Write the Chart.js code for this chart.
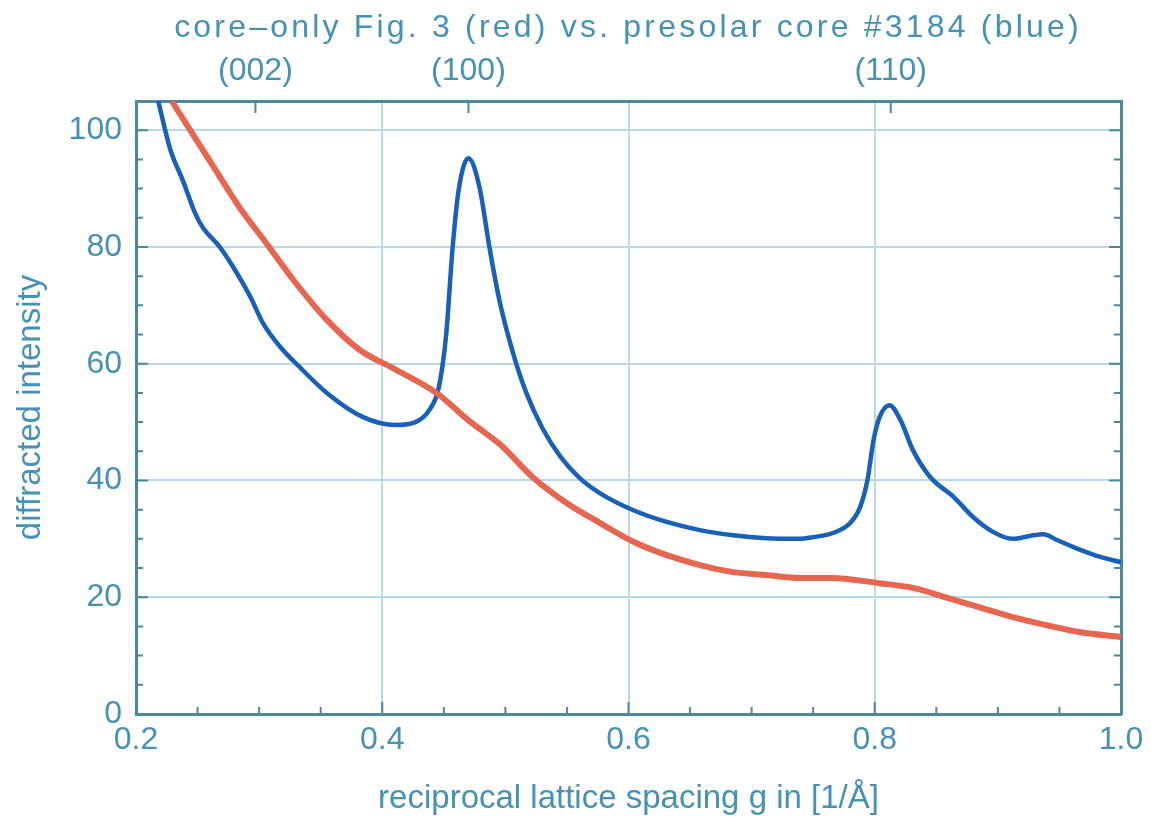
<!DOCTYPE html>
<html>
<head>
<meta charset="utf-8">
<title>core-only Fig. 3 vs. presolar core</title>
<script src="https://cdn.jsdelivr.net/npm/chart.js@4.4.0/dist/chart.umd.min.js"></script>
<style>
  html, body { margin: 0; padding: 0; background: #ffffff; }
  canvas { display: block; }
</style>
</head>
<body>
<canvas id="grafico" width="1151" height="821"></canvas>
<script>
// ==========================================
// DATA
// ==========================================
const gRed = [0.229, 0.244, 0.263, 0.284, 0.306, 0.328, 0.355, 0.382, 0.409, 0.444,
              0.470, 0.496, 0.522, 0.550, 0.577, 0.604, 0.631, 0.658, 0.685, 0.712,
              0.739, 0.764, 0.804, 0.831, 0.859, 0.886, 0.912, 0.940, 0.967, 1.000];
const iRed = [105.0, 100.0, 93.7, 86.8, 80.6, 74.3, 67.5, 62.3, 59.2, 55.0,
              50.3, 46.1, 40.6, 36.1, 32.7, 29.5, 27.2, 25.5, 24.3, 23.8,
              23.3, 23.3, 22.4, 21.6, 19.9, 18.2, 16.6, 15.2, 14.0, 13.2];

const gBlue = [0.218, 0.228, 0.238, 0.248, 0.254, 0.268, 0.282, 0.293, 0.303, 0.317,
               0.333, 0.355, 0.384, 0.411, 0.427, 0.438, 0.446, 0.452, 0.457, 0.462,
               0.470, 0.479, 0.487, 0.495, 0.506, 0.517, 0.530, 0.545, 0.560, 0.577,
               0.604, 0.631, 0.658, 0.685, 0.712, 0.739, 0.750, 0.766, 0.780, 0.788,
               0.794, 0.799, 0.804, 0.812, 0.821, 0.831, 0.845, 0.864, 0.880, 0.896,
               0.912, 0.926, 0.937, 0.948, 0.967, 0.983, 1.000];
const iBlue = [105.0, 96.6, 91.4, 85.8, 83.4, 80.0, 75.5, 71.4, 67.0, 62.9,
               59.4, 55.0, 50.9, 49.5, 50.0, 52.0, 56.0, 65.2, 79.5, 89.7,
               95.2, 90.2, 80.0, 71.0, 62.0, 55.0, 49.0, 44.0, 40.5, 37.8,
               34.9, 32.9, 31.5, 30.6, 30.1, 30.0, 30.3, 31.0, 32.7, 35.4,
               40.0, 46.9, 50.9, 52.9, 50.3, 45.2, 40.6, 37.2, 33.7, 31.2,
               30.0, 30.5, 30.8, 29.8, 28.1, 26.9, 26.0];

const xTicks = [0.2, 0.4, 0.6, 0.8, 1.0];
const xMinor = [0.25, 0.3, 0.35, 0.45, 0.5, 0.55, 0.65, 0.7, 0.75, 0.85, 0.9, 0.95];
const yTicks = [0, 20, 40, 60, 80, 100];
const yMinor = [5, 10, 15, 25, 30, 35, 45, 50, 55, 65, 70, 75, 85, 90, 95];
const peakG = [0.297, 0.470, 0.813];
const peakLabels = ['(002)', '(100)', '(110)'];

const colors = {
    red: '#e6664f',
    blue: '#1860b8',
    text: '#4592b4',
    axis: '#4a889c',
    grid: '#bcd9e7'
};
const FONT = '"Liberation Sans", Arial, sans-serif';

// texto del título con espaciado amplio
const tituloPlugin = {
    id: 'tituloEspaciado',
    afterDraw(chart) {
        const ctx = chart.ctx;
        ctx.save();
        ctx.font = '32px ' + FONT;
        ctx.letterSpacing = '3.2px';
        ctx.fillStyle = colors.text;
        ctx.textAlign = 'center';
        ctx.textBaseline = 'middle';
        ctx.fillText('core\u2013only Fig. 3 (red) vs. presolar core #3184 (blue)', 628, 28);
        ctx.restore();
    }
};

// marcas de eje hacia adentro
const marcasPlugin = {
    id: 'marcasInternas',
    afterDatasetsDraw(chart) {
        const { ctx, chartArea: a, scales } = chart;
        ctx.save();
        ctx.strokeStyle = colors.axis;
        ctx.lineWidth = 2;
        ctx.beginPath();
        xMinor.forEach(v => {
            const px = scales.x.getPixelForValue(v);
            ctx.moveTo(px, a.bottom); ctx.lineTo(px, a.bottom - 7);
        });
        xTicks.forEach(v => {
            const px = scales.x.getPixelForValue(v);
            ctx.moveTo(px, a.bottom); ctx.lineTo(px, a.bottom - 12);
        });
        yMinor.forEach(v => {
            const py = scales.y.getPixelForValue(v);
            ctx.moveTo(a.left, py); ctx.lineTo(a.left + 7, py);
            ctx.moveTo(a.right, py); ctx.lineTo(a.right - 7, py);
        });
        yTicks.forEach(v => {
            const py = scales.y.getPixelForValue(v);
            ctx.moveTo(a.left, py); ctx.lineTo(a.left + 12, py);
            ctx.moveTo(a.right, py); ctx.lineTo(a.right - 12, py);
        });
        peakG.forEach(v => {
            const px = scales.x2.getPixelForValue(v);
            ctx.moveTo(px, a.top); ctx.lineTo(px, a.top + 12);
        });
        ctx.stroke();
        ctx.restore();
    }
};

const ctx = document.getElementById('grafico').getContext('2d');

new Chart(ctx, {
    type: 'line',
    data: {
        datasets: [
            {
                label: 'core-only Fig. 3',
                data: gRed.map((g, i) => ({ x: g, y: iRed[i] })),
                borderColor: colors.red,
                borderWidth: 6,
                pointRadius: 0,
                cubicInterpolationMode: 'monotone',
                fill: false
            },
            {
                label: 'presolar core #3184',
                data: gBlue.map((g, i) => ({ x: g, y: iBlue[i] })),
                borderColor: colors.blue,
                borderWidth: 4.5,
                pointRadius: 0,
                cubicInterpolationMode: 'monotone',
                fill: false
            }
        ]
    },
    options: {
        responsive: false,
        animation: false,
        devicePixelRatio: 1,
        layout: { padding: { top: 50, left: 0, right: 0, bottom: 2 } },
        plugins: {
            legend: { display: false },
            tooltip: { enabled: false },
            title: { display: false }
        },
        scales: {
            x: {
                type: 'linear',
                position: 'bottom',
                min: 0.2,
                max: 1.0,
                afterBuildTicks: s => { s.ticks = xTicks.map(v => ({ value: v })); },
                afterFit: s => { s.height = 105; },
                ticks: {
                    color: colors.text,
                    font: { family: FONT, size: 32 },
                    padding: 7,
                    maxRotation: 0,
                    autoSkip: false,
                    callback: v => v.toFixed(1)
                },
                grid: { color: colors.grid, lineWidth: 2, drawTicks: false },
                border: { display: true, color: colors.axis, width: 3 },
                title: {
                    display: true,
                    text: 'reciprocal lattice spacing g in [1/\u00c5]',
                    color: colors.text,
                    font: { family: FONT, size: 33 },
                    padding: { top: 0, bottom: 0 }
                }
            },
            x2: {
                type: 'linear',
                position: 'top',
                min: 0.2,
                max: 1.0,
                afterBuildTicks: s => { s.ticks = peakG.map(v => ({ value: v })); },
                afterFit: s => { s.height = 51; },
                ticks: {
                    color: colors.text,
                    font: { family: FONT, size: 32 },
                    padding: 11,
                    maxRotation: 0,
                    autoSkip: false,
                    callback: (v, i) => peakLabels[i]
                },
                grid: { drawOnChartArea: false, drawTicks: false },
                border: { display: true, color: colors.axis, width: 3 }
            },
            y: {
                type: 'linear',
                position: 'left',
                min: 0,
                max: 105,
                afterBuildTicks: s => { s.ticks = yTicks.map(v => ({ value: v })); },
                afterFit: s => { s.width = 136; },
                ticks: {
                    color: colors.text,
                    font: { family: FONT, size: 32 },
                    padding: 14
                },
                grid: { color: colors.grid, lineWidth: 2, drawTicks: false },
                border: { display: true, color: colors.axis, width: 3 },
                title: {
                    display: true,
                    text: 'diffracted intensity',
                    color: colors.text,
                    font: { family: FONT, size: 33 },
                    padding: { top: 11, bottom: 0 }
                }
            },
            y2: {
                type: 'linear',
                position: 'right',
                min: 0,
                max: 105,
                afterFit: s => { s.width = 30; },
                ticks: { display: false },
                grid: { drawOnChartArea: false, drawTicks: false },
                border: { display: true, color: colors.axis, width: 3 }
            }
        }
    },
    plugins: [marcasPlugin, tituloPlugin]
});
</script>
</body>
</html>
